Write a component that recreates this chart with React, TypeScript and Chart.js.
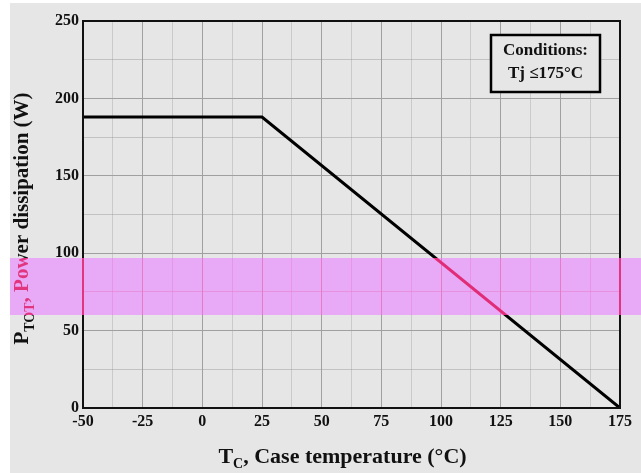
import React, { useEffect, useRef } from "react";
import { Chart, registerables } from "chart.js";

Chart.register(...registerables);

const caseTemps = [-50, 25, 175];
const powerValues = [188, 188, 0];
const xTickMin = -50;
const xTickMax = 175;
const yTickMin = 0;
const yTickMax = 250;
const conditionLines = ["Conditions:", "Tj \u2264175\u00B0C"];

const FONT = "'Liberation Serif', 'Times New Roman', serif";

function drawSubText(ctx: CanvasRenderingContext2D, parts: { t: string; sub?: boolean }[], size: number) {
  let w = 0;
  for (const p of parts) {
    ctx.font = `bold ${p.sub ? Math.round(size * 0.65) : size}px ${FONT}`;
    w += ctx.measureText(p.t).width;
  }
  let x = -w / 2;
  for (const p of parts) {
    ctx.font = `bold ${p.sub ? Math.round(size * 0.65) : size}px ${FONT}`;
    ctx.fillText(p.t, x, p.sub ? size * 0.35 : 0);
    x += ctx.measureText(p.t).width;
  }
}

const decorPlugin = {
  id: "decor",
  afterDraw(chart: any) {
    const { ctx, chartArea, width } = chart;
    const { left, right, top, bottom } = chartArea;
    ctx.save();
    ctx.strokeStyle = "#111";
    ctx.lineWidth = 2;
    ctx.strokeRect(left, top, right - left, bottom - top);

    // conditions box
    const bw = 109, bh = 57;
    const bx = right - 20 - bw;
    const by = top + 14;
    ctx.fillStyle = "#e6e6e6";
    ctx.fillRect(bx, by, bw, bh);
    ctx.strokeStyle = "#000";
    ctx.lineWidth = 2.5;
    ctx.strokeRect(bx, by, bw, bh);
    ctx.fillStyle = "#111";
    ctx.textAlign = "center";
    ctx.textBaseline = "middle";
    ctx.font = `bold 17px ${FONT}`;
    ctx.fillText(conditionLines[0], bx + bw / 2, by + 16);
    ctx.fillText(conditionLines[1], bx + bw / 2, by + 39);

    // axis titles
    ctx.textAlign = "left";
    ctx.textBaseline = "middle";
    ctx.save();
    ctx.translate((left + right) / 2 - 9, bottom + 49);
    drawSubText(ctx, [{ t: "T" }, { t: "C", sub: true }, { t: ", Case temperature (\u00B0C)" }], 22);
    ctx.restore();

    ctx.save();
    ctx.translate(13, (top + bottom) / 2 + 4);
    ctx.rotate(-Math.PI / 2);
    drawSubText(ctx, [{ t: "P" }, { t: "TOT", sub: true }, { t: ", Power dissipation (W)" }], 21);
    ctx.restore();

    // overlay band (multiply then screen)
    const bandTop = 255;
    const bandH = 57;
    ctx.globalCompositeOperation = "multiply";
    ctx.fillStyle = "rgb(60,150,240)";
    ctx.fillRect(0, bandTop, width, bandH);
    ctx.globalCompositeOperation = "screen";
    ctx.fillStyle = "rgb(225,45,120)";
    ctx.fillRect(0, bandTop, width, bandH);
    ctx.restore();
  },
};

export default function App() {
  const canvasRef = useRef<HTMLCanvasElement | null>(null);

  useEffect(() => {
    const canvas = canvasRef.current;
    if (!canvas) return;
    const chart = new Chart(canvas, {
      type: "line",
      data: {
        datasets: [
          {
            data: caseTemps.map((t, i) => ({ x: t, y: powerValues[i] })),
            borderColor: "#000",
            borderWidth: 3,
            pointRadius: 0,
            tension: 0,
            fill: false,
          },
        ],
      },
      options: {
        animation: false,
        responsive: false,
        maintainAspectRatio: false,
        layout: { padding: { left: 0, top: 18, right: 21, bottom: 0 } },
        plugins: {
          legend: { display: false },
          tooltip: { enabled: false },
        },
        scales: {
          x: {
            type: "linear",
            min: xTickMin,
            max: xTickMax,
            afterFit: (s: any) => {
              s.height = 65;
            },
            ticks: {
              stepSize: 12.5,
              autoSkip: false,
              maxRotation: 0,
              padding: 4,
              color: "#111",
              font: { family: FONT, weight: "bold", size: 16 },
              callback: (v: any) => (Number(v) % 25 === 0 ? String(v) : ""),
            },
            grid: {
              drawTicks: false,
              color: (c: any) => (c.tick && c.tick.value % 25 === 0 ? "#a0a0a0" : "rgba(150,150,150,0.35)"),
              lineWidth: 1,
            },
            border: { color: "#111", width: 2 },
          },
          y: {
            type: "linear",
            min: yTickMin,
            max: yTickMax,
            afterFit: (s: any) => {
              s.width = 73;
            },
            ticks: {
              stepSize: 25,
              autoSkip: false,
              padding: 4,
              color: "#111",
              font: { family: FONT, weight: "bold", size: 16 },
              callback: (v: any) => (Number(v) % 50 === 0 ? String(v) : ""),
            },
            grid: {
              drawTicks: false,
              color: (c: any) => (c.tick && c.tick.value % 50 === 0 ? "#a0a0a0" : "rgba(150,150,150,0.45)"),
              lineWidth: 1,
            },
            border: { color: "#111", width: 2 },
          },
        },
      },
      plugins: [decorPlugin],
    });
    return () => chart.destroy();
  }, []);

  return (
    <div style={{ position: "absolute", left: 0, top: 0, width: 641, height: 473, background: "#fff" }}>
      <canvas
        ref={canvasRef}
        width={631}
        height={470}
        style={{ position: "absolute", left: 10, top: 3, width: 631, height: 470, background: "#e6e6e6" }}
      />
    </div>
  );
}
